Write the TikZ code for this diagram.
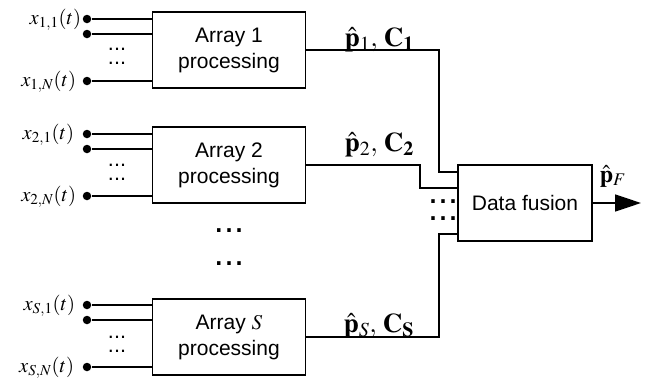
\documentclass[tikz,border=0pt]{standalone}
\usepackage{mathptmx}
\usepackage[no-math]{fontspec}
\newfontfamily\arial{Liberation Sans}
\usetikzlibrary{arrows.meta}

\begin{document}
\begin{tikzpicture}[x=1pt, y=-1pt, line width=1.6pt,
  procbox/.style={draw, inner sep=0pt, minimum width=153pt, minimum height=76pt,
    align=center, font=\arial\fontsize{21}{26}\selectfont},
  sensor/.style={circle, fill, inner sep=0pt, minimum size=8.5pt},
  siglabel/.style={anchor=base east, inner sep=0pt, font=\fontsize{20.5}{24}\selectfont},
  estlabel/.style={anchor=base west, inner sep=0pt, font=\fontsize{27}{30}\selectfont},
  smalldots/.style={anchor=base, inner sep=0pt, font=\arial\fontsize{21.6}{24}\selectfont},
  bigdots/.style={anchor=base, inner sep=0pt, font=\arial\fontsize{36}{40}\selectfont},
]
\useasboundingbox (0,0) rectangle (648,383);

% processing blocks
\node[procbox] (a1) at (229,50)  {Array 1\\processing};
\node[procbox] (a2) at (229,165) {Array 2\\processing};
\node[procbox] (aS) at (229,337) {Array $S$\\processing};
\node[procbox, minimum width=134pt] (fus) at (525,203) {Data fusion};

% sensor inputs of array 1
\node[sensor] (s11) at (87,19) {};
\node[sensor] (s12) at (87,34) {};
\node[sensor] (s1N) at (87,81) {};
\node[siglabel] (l11) at (82,24.5) {$x_{1,1}(t)$};
\node[siglabel] (l1N) at (77,86.5) {$x_{1,N}(t)$};
\node[smalldots] (d1a) at (117,50) {...};
\node[smalldots] (d1b) at (117,64) {...};

% sensor inputs of array 2
\node[sensor] (s21) at (87,134) {};
\node[sensor] (s22) at (87,149) {};
\node[sensor] (s2N) at (87,196) {};
\node[siglabel] (l21) at (75,139.5) {$x_{2,1}(t)$};
\node[siglabel] (l2N) at (77,201.5) {$x_{2,N}(t)$};
\node[smalldots] (d2a) at (117,166) {...};
\node[smalldots] (d2b) at (117,180) {...};

% sensor inputs of array S
\node[sensor] (sS1) at (87,305) {};
\node[sensor] (sS2) at (87,320) {};
\node[sensor] (sSN) at (87,367) {};
\node[siglabel] (lS1) at (76,310.5) {$x_{S,1}(t)$};
\node[siglabel] (lSN) at (75,372.5) {$x_{S,N}(t)$};
\node[smalldots] (dSa) at (117,338) {...};
\node[smalldots] (dSb) at (117,352) {...};

\foreach \s/\b in {s11/a1, s12/a1, s1N/a1, s21/a2, s22/a2, s2N/a2, sS1/aS, sS2/aS, sSN/aS}
  \draw (\s) -- (\s -| \b.west);

% omitted arrays
\node[bigdots] (va) at (229,232.8) {...};
\node[bigdots] (vb) at (229,265.8) {...};

% omitted fusion inputs
\node[bigdots] (fa) at (443,203.8) {...};
\node[bigdots] (fb) at (443,220.8) {...};

% estimates passed to the fusion block
\coordinate (f1) at (458,172);
\coordinate (f2) at (458,188);
\coordinate (fS) at (458,234);
\coordinate (k1) at (439,172);
\coordinate (k2) at (420,188);
\coordinate (kS) at (439,234);
\draw (a1.east) -| (k1) -- (f1);
\draw (a2.east) -| (k2) -- (f2);
\draw (aS.east) -| (kS) -- (fS);

\node[estlabel] (e1) at (344,46)  {$\hat{\mathbf{p}}_1,\,\mathbf{C}_{\mathbf{1}}$};
\node[estlabel] (e2) at (344,151) {$\hat{\mathbf{p}}_2,\,\mathbf{C}_{\mathbf{2}}$};
\node[estlabel] (eS) at (343,332) {$\hat{\mathbf{p}}_S,\,\mathbf{C}_{\mathbf{S}}$};

% fused output
\coordinate (out) at (641,203);
\draw[-{Triangle[length=26pt,width=17pt]}] (fus.east) -- (out);
\node[estlabel, font=\fontsize{24}{28}\selectfont] (eF) at (599,182) {$\hat{\mathbf{p}}_F$};
\end{tikzpicture}
\end{document}
